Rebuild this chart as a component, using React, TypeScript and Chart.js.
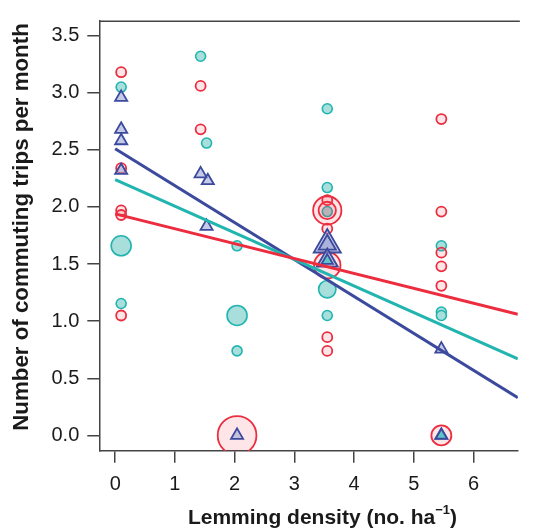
import { useEffect, useRef } from 'react';
import { Chart, registerables } from 'chart.js';

Chart.register(...registerables);

// ---- Data ----
const xTicks = [0, 1, 2, 3, 4, 5, 6];
const yTicks = [0, 0.5, 1, 1.5, 2, 2.5, 3, 3.5];

// Red group (open circles); n = number of overlapping observations
const redX = [0.1, 0.1, 0.1, 0.1, 0.1, 1.43, 1.43, 2.04, 3.55, 3.55, 3.55, 3.55, 3.55, 3.55, 3.55, 5.46, 5.46, 5.46, 5.46, 5.46, 5.46];
const redY = [3.18, 2.34, 1.97, 1.93, 1.05, 3.06, 2.68, 0.0, 2.06, 1.97, 1.97, 1.81, 1.49, 0.86, 0.74, 2.77, 1.96, 1.6, 1.48, 1.31, 0.0];
const redN = [1, 1, 1, 1, 1, 1, 1, 15, 1, 8, 3, 1, 7, 1, 1, 1, 1, 1, 1, 1, 4];

// Cyan group (filled circles)
const cyanX = [0.1, 0.1, 0.1, 1.43, 1.53, 2.04, 2.04, 2.04, 3.55, 3.55, 3.55, 3.55, 3.55, 5.46, 5.46, 5.46];
const cyanY = [3.05, 1.66, 1.155, 3.32, 2.56, 1.66, 1.05, 0.74, 2.86, 2.17, 1.96, 1.28, 1.05, 1.66, 1.08, 1.05];
const cyanN = [1, 4, 1, 1, 1, 1, 4, 1, 1, 1, 1, 3, 1, 1, 1, 1];

// Blue group (triangles)
const triX = [0.1, 0.1, 0.1, 0.1, 1.43, 1.55, 1.53, 2.04, 3.55, 3.55, 3.55, 5.46, 5.46];
const triY = [2.96, 2.68, 2.58, 2.32, 2.29, 2.23, 1.83, 0.0, 1.67, 1.67, 1.53, 0.755, 0.0];
const triN = [1, 1, 1, 1, 1, 1, 1, 1, 5, 2, 3, 1, 1];

// Triangles overlapping cyan observations
const mixX = [3.55, 5.46];
const mixY = [1.53, 0.0];
const mixN = [1, 1];

// Fitted lines (end points)
const lineX = [0, 6.74];
const redLineY = [1.94, 1.06];
const cyanLineY = [2.24, 0.67];
const blueLineY = [2.51, 0.33];

const RED = '#EC2D3F';
const CYAN = '#22B5B0';
const CYAN_FILL = '#A8DEDB';
const BLUE = '#3C4A9E';
const FONT = '"Liberation Sans", Arial, Helvetica, sans-serif';

const pts = (xs: number[], ys: number[]) => xs.map((x, i) => ({ x, y: ys[i] }));

const framePlugin = {
  id: 'frameTitles',
  afterDraw(chart: any) {
    const { ctx, chartArea } = chart;
    ctx.save();
    ctx.strokeStyle = '#444';
    ctx.lineWidth = 1.5;
    ctx.beginPath();
    ctx.moveTo(chartArea.left, chartArea.top);
    ctx.lineTo(chartArea.right + 2, chartArea.top);
    ctx.stroke();

    ctx.fillStyle = '#1a1a1a';
    // x title with superscript
    const mainFont = `bold 21px ${FONT}`;
    const supFont = `bold 13px ${FONT}`;
    const main = 'Lemming density (no. ha';
    const sup = '\u22121';
    const close = ')';
    ctx.font = mainFont;
    const wMain = ctx.measureText(main).width;
    const wClose = ctx.measureText(close).width;
    ctx.font = supFont;
    const wSup = ctx.measureText(sup).width;
    const total = wMain + wSup + wClose;
    let x = 322.5 - total / 2;
    const base = 524;
    ctx.textAlign = 'left';
    ctx.textBaseline = 'alphabetic';
    ctx.font = mainFont;
    ctx.fillText(main, x, base);
    x += wMain;
    ctx.font = supFont;
    ctx.fillText(sup, x, base - 10);
    x += wSup;
    ctx.font = mainFont;
    ctx.fillText(close, x, base);

    // y title
    ctx.save();
    ctx.translate(28, 227);
    ctx.rotate(-Math.PI / 2);
    ctx.textAlign = 'center';
    ctx.textBaseline = 'alphabetic';
    ctx.font = `bold 22.3px ${FONT}`;
    ctx.fillText('Number of commuting trips per month', 0, 0);
    ctx.restore();
    ctx.restore();
  },
};

export default function App() {
  const ref = useRef<HTMLCanvasElement>(null);
  useEffect(() => {
    if (!ref.current) return;
    const chart = new Chart(ref.current, {
      type: 'scatter',
      data: {
        datasets: [
          {
            type: 'line',
            data: pts(lineX, redLineY),
            borderColor: RED,
            borderWidth: 3,
            pointRadius: 0,
            showLine: true,
            fill: false,
            order: 0,
          } as any,
          {
            type: 'line',
            data: pts(lineX, cyanLineY),
            borderColor: CYAN,
            borderWidth: 3,
            pointRadius: 0,
            showLine: true,
            fill: false,
            order: 0,
          } as any,
          {
            type: 'line',
            data: pts(lineX, blueLineY),
            borderColor: BLUE,
            borderWidth: 3,
            pointRadius: 0,
            showLine: true,
            fill: false,
            order: 0,
          } as any,
          {
            data: pts(mixX, mixY),
            pointStyle: 'triangle',
            pointRadius: mixN.map((n) => 6.5 * Math.sqrt(n)),
            backgroundColor: '#5CC6C6',
            borderColor: BLUE,
            pointBorderWidth: 1.8,
            order: 1,
          } as any,
          {
            data: pts(triX, triY),
            pointStyle: 'triangle',
            pointRadius: triN.map((n) => 7 * Math.sqrt(n)),
            backgroundColor: 'rgba(150,160,212,0.55)',
            borderColor: BLUE,
            pointBorderWidth: 1.8,
            order: 2,
          } as any,
          {
            data: pts(redX, redY),
            pointStyle: 'circle',
            pointRadius: redN.map((n) => 5 * Math.sqrt(n)),
            backgroundColor: 'rgba(236,45,63,0.12)',
            borderColor: RED,
            pointBorderWidth: 1.8,
            order: 3,
          } as any,
          {
            data: pts(cyanX, cyanY),
            pointStyle: 'circle',
            pointRadius: cyanN.map((n) => 5 * Math.sqrt(n)),
            backgroundColor: CYAN_FILL,
            borderColor: CYAN,
            pointBorderWidth: 1.6,
            order: 4,
          } as any,
        ],
      },
      options: {
        responsive: false,
        animation: false,
        events: [],
        layout: { padding: { top: 11, left: 0, right: 0, bottom: 0 } },
        plugins: { legend: { display: false }, tooltip: { enabled: false } },
        scales: {
          x: {
            type: 'linear',
            min: -0.266,
            max: 6.74,
            afterBuildTicks: (s: any) => {
              s.ticks = xTicks.map((v) => ({ value: v }));
            },
            afterFit: (s: any) => {
              s.height = 78.3;
              s.paddingLeft = 0;
              s.paddingRight = 0;
            },
            grid: { drawOnChartArea: false, drawTicks: true, tickLength: 12, color: '#444', lineWidth: 1.5 },
            border: { display: true, color: '#444', width: 1.5 },
            ticks: {
              font: { family: FONT, size: 20 },
              color: '#1a1a1a',
              padding: 10,
              maxRotation: 0,
              autoSkip: false,
              callback: (v: any) => String(v),
            },
          },
          y: {
            type: 'linear',
            min: -0.134,
            max: 3.627,
            afterBuildTicks: (s: any) => {
              s.ticks = yTicks.map((v) => ({ value: v }));
            },
            afterFit: (s: any) => {
              s.width = 99.3;
              s.paddingTop = 0;
              s.paddingBottom = 0;
            },
            grid: { drawOnChartArea: false, drawTicks: true, tickLength: 12, color: '#444', lineWidth: 1.5 },
            border: { display: true, color: '#444', width: 1.5 },
            ticks: {
              font: { family: FONT, size: 20 },
              color: '#1a1a1a',
              padding: 8,
              autoSkip: false,
              callback: (v: any) => Number(v).toFixed(1),
            },
          },
        },
      },
      plugins: [framePlugin],
    });
    return () => chart.destroy();
  }, []);
  return (
    <div style={{ position: 'absolute', left: 0, top: 0, width: 539, height: 529 }}>
      <canvas ref={ref} width={539} height={529} style={{ display: 'block', width: 539, height: 529 }} />
    </div>
  );
}
